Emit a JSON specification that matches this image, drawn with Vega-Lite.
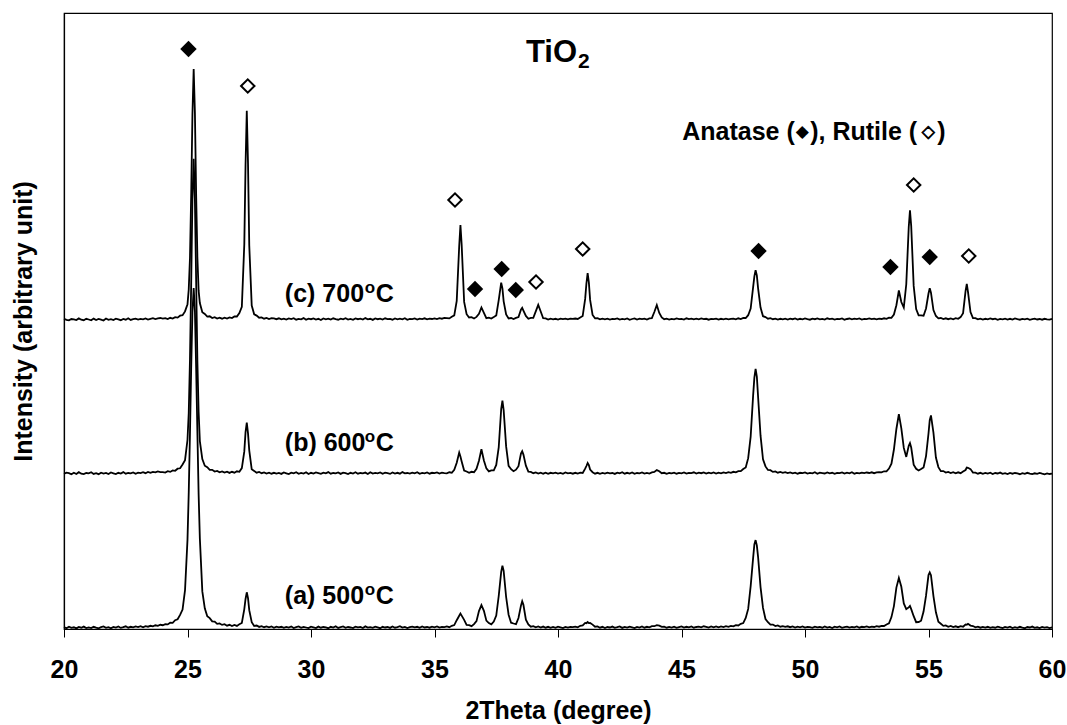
{
  "$schema": "https://vega.github.io/schema/vega-lite/v6.json",
  "width": 988,
  "height": 616,
  "autosize": {"type": "none"},
  "padding": {"left": 64, "top": 13, "right": 15, "bottom": 96},
  "background": "white",
  "config": {
    "font": "Liberation Sans",
    "view": {"stroke": "black", "strokeWidth": 1.2},
    "axis": {
      "grid": false,
      "domainColor": "black",
      "domainWidth": 1.2,
      "tickColor": "black",
      "labelFont": "Liberation Sans",
      "labelFontWeight": "bold",
      "labelFontSize": 25,
      "labelColor": "black",
      "titleFont": "Liberation Sans",
      "titleFontWeight": "bold",
      "titleFontSize": 25,
      "titleColor": "black"
    }
  },
  "datasets": {
    "xrd": [
      {"t":20.0,"a":1.9,"b":155.2,"c":310.3},{"t":20.1,"a":0.8,"b":156.4,"c":309.1},{"t":20.2,"a":2.3,"b":155.9,"c":308.6},{"t":20.3,"a":1.1,"b":154.7,"c":310.0},{"t":20.4,"a":1.7,"b":156.2,"c":309.7},
      {"t":20.5,"a":0.6,"b":155.0,"c":308.9},{"t":20.6,"a":2.0,"b":156.8,"c":310.6},{"t":20.7,"a":1.3,"b":155.3,"c":309.3},{"t":20.8,"a":2.4,"b":154.9,"c":308.8},{"t":20.9,"a":1.0,"b":156.0,"c":310.2},
      {"t":21.0,"a":1.6,"b":155.6,"c":309.5},{"t":21.1,"a":0.9,"b":156.7,"c":308.7},{"t":21.2,"a":2.2,"b":155.1,"c":310.4},{"t":21.3,"a":1.4,"b":155.8,"c":309.0},{"t":21.4,"a":0.7,"b":154.8,"c":310.1},
      {"t":21.5,"a":1.8,"b":156.3,"c":309.4},{"t":21.6,"a":2.5,"b":155.4,"c":308.5},{"t":21.7,"a":1.2,"b":156.1,"c":310.5},{"t":21.8,"a":1.9,"b":155.0,"c":309.2},{"t":21.9,"a":0.8,"b":156.5,"c":309.8},
      {"t":22.0,"a":2.1,"b":155.7,"c":308.9},{"t":22.1,"a":1.5,"b":154.9,"c":310.3},{"t":22.2,"a":2.6,"b":156.2,"c":309.6},{"t":22.3,"a":1.1,"b":155.5,"c":308.8},{"t":22.4,"a":1.8,"b":156.9,"c":310.0},
      {"t":22.5,"a":2.7,"b":155.3,"c":309.3},{"t":22.6,"a":1.3,"b":156.0,"c":310.7},{"t":22.7,"a":2.2,"b":155.6,"c":309.1},{"t":22.8,"a":1.6,"b":156.6,"c":309.9},{"t":22.9,"a":2.5,"b":155.2,"c":310.4},
      {"t":23.0,"a":1.9,"b":156.3,"c":309.4},{"t":23.1,"a":2.8,"b":155.9,"c":310.1},{"t":23.2,"a":1.7,"b":156.8,"c":309.7},{"t":23.3,"a":2.9,"b":155.8,"c":310.5},{"t":23.4,"a":2.3,"b":157.0,"c":309.5},
      {"t":23.5,"a":3.2,"b":156.1,"c":310.2},{"t":23.6,"a":2.6,"b":157.1,"c":310.8},{"t":23.7,"a":3.7,"b":156.6,"c":310.0},{"t":23.8,"a":3.1,"b":157.5,"c":310.6},{"t":23.9,"a":4.2,"b":156.9,"c":311.0},
      {"t":24.0,"a":3.8,"b":156.9,"c":310.4},{"t":24.1,"a":4.9,"b":156.4,"c":310.9},{"t":24.2,"a":4.6,"b":157.8,"c":309.9},{"t":24.3,"a":6.3,"b":157.1,"c":311.2},{"t":24.4,"a":6.1,"b":158.6,"c":310.5},
      {"t":24.5,"a":8.8,"b":158.2,"c":311.9},{"t":24.6,"a":9.7,"b":160.3,"c":311.4},{"t":24.7,"a":14.1,"b":160.7,"c":313.3},{"t":24.8,"a":19.4,"b":164.5,"c":313.8},{"t":24.9,"a":38.9,"b":168.8,"c":317.6},
      {"t":25.0,"a":89.4,"b":189.2,"c":324.8},{"t":25.05,"a":136.2,"b":215.9,"c":339.5},{"t":25.1,"a":195.8,"b":269.3,"c":370.9},{"t":25.15,"a":262.1,"b":346.8,"c":435.2},{"t":25.2,"a":316.9,"b":430.2,"c":514.8},
      {"t":25.25,"a":340.9,"b":470.1,"c":560.0},{"t":25.3,"a":318.1,"b":428.8,"c":516.2},{"t":25.35,"a":260.8,"b":348.3,"c":433.9},{"t":25.4,"a":197.2,"b":267.9,"c":372.1},{"t":25.45,"a":134.9,"b":217.2,"c":338.3},
      {"t":25.5,"a":90.6,"b":187.9,"c":325.9},{"t":25.6,"a":37.6,"b":169.9,"c":316.7},{"t":25.7,"a":20.7,"b":163.3,"c":315.0},{"t":25.8,"a":12.8,"b":161.8,"c":312.4},{"t":25.9,"a":10.9,"b":159.1,"c":312.7},
      {"t":26.0,"a":7.6,"b":159.2,"c":311.0},{"t":26.1,"a":7.3,"b":157.5,"c":311.8},{"t":26.2,"a":5.1,"b":158.1,"c":310.5},{"t":26.3,"a":5.6,"b":156.7,"c":311.3},{"t":26.4,"a":4.1,"b":157.6,"c":310.3},
      {"t":26.5,"a":4.8,"b":156.4,"c":311.4},{"t":26.6,"a":3.3,"b":157.3,"c":310.5},{"t":26.7,"a":4.2,"b":156.1,"c":311.6},{"t":26.8,"a":2.9,"b":157.2,"c":310.9},{"t":26.9,"a":4.0,"b":156.3,"c":312.5},
      {"t":27.0,"a":3.1,"b":157.7,"c":312.5},{"t":27.1,"a":4.7,"b":157.2,"c":315.9},{"t":27.2,"a":6.0,"b":160.9,"c":322.3},{"t":27.3,"a":19.9,"b":177.6,"c":385.0},{"t":27.35,"a":30.0,"b":196.8,"c":464.1},
      {"t":27.4,"a":36.7,"b":206.5,"c":518.2},{"t":27.45,"a":30.9,"b":195.6,"c":465.3},{"t":27.5,"a":18.8,"b":178.7,"c":383.8},{"t":27.6,"a":6.8,"b":159.7,"c":323.4},{"t":27.7,"a":3.1,"b":158.0,"c":314.7},
      {"t":27.8,"a":3.5,"b":156.3,"c":313.4},{"t":27.9,"a":2.1,"b":157.0,"c":311.3},{"t":28.0,"a":2.9,"b":155.8,"c":311.6},{"t":28.1,"a":1.8,"b":156.6,"c":310.3},{"t":28.2,"a":2.6,"b":155.5,"c":311.1},
      {"t":28.3,"a":1.6,"b":156.4,"c":309.9},{"t":28.4,"a":2.5,"b":155.3,"c":310.8},{"t":28.5,"a":1.3,"b":156.2,"c":310.6},{"t":28.6,"a":2.4,"b":155.4,"c":309.8},{"t":28.7,"a":1.6,"b":156.0,"c":310.7},
      {"t":28.8,"a":2.2,"b":155.1,"c":309.6},{"t":28.9,"a":1.1,"b":156.5,"c":310.3},{"t":29.0,"a":2.0,"b":155.7,"c":309.4},{"t":29.1,"a":1.4,"b":154.9,"c":310.5},{"t":29.2,"a":2.5,"b":156.3,"c":309.9},
      {"t":29.3,"a":1.0,"b":155.6,"c":310.8},{"t":29.4,"a":1.9,"b":156.7,"c":309.3},{"t":29.5,"a":2.6,"b":155.2,"c":310.1},{"t":29.6,"a":1.2,"b":156.1,"c":309.7},{"t":29.7,"a":2.1,"b":155.5,"c":310.9},
      {"t":29.8,"a":1.5,"b":156.8,"c":309.2},{"t":29.9,"a":0.9,"b":155.0,"c":310.4},{"t":30.0,"a":2.3,"b":156.2,"c":309.8},{"t":30.1,"a":1.7,"b":155.4,"c":310.6},{"t":30.2,"a":1.0,"b":156.6,"c":309.5},
      {"t":30.3,"a":2.4,"b":155.9,"c":310.2},{"t":30.4,"a":1.3,"b":155.2,"c":309.0},{"t":30.5,"a":2.0,"b":156.4,"c":310.5},{"t":30.6,"a":1.6,"b":155.7,"c":309.7},{"t":30.7,"a":0.8,"b":156.9,"c":310.3},
      {"t":30.8,"a":2.2,"b":155.3,"c":309.4},{"t":30.9,"a":1.4,"b":156.0,"c":310.7},{"t":31.0,"a":2.7,"b":155.6,"c":309.9},{"t":31.1,"a":1.1,"b":156.5,"c":309.3},{"t":31.2,"a":1.8,"b":155.1,"c":310.4},
      {"t":31.3,"a":2.5,"b":156.3,"c":309.6},{"t":31.4,"a":1.2,"b":155.8,"c":310.8},{"t":31.5,"a":2.0,"b":154.9,"c":309.5},{"t":31.6,"a":1.5,"b":156.2,"c":310.1},{"t":31.7,"a":0.9,"b":155.5,"c":309.2},
      {"t":31.8,"a":2.3,"b":156.7,"c":310.6},{"t":31.9,"a":1.6,"b":155.3,"c":309.8},{"t":32.0,"a":2.1,"b":156.0,"c":310.3},{"t":32.1,"a":1.0,"b":155.6,"c":309.4},{"t":32.2,"a":2.6,"b":156.4,"c":310.9},
      {"t":32.3,"a":1.4,"b":155.0,"c":309.7},{"t":32.4,"a":1.9,"b":156.8,"c":310.2},{"t":32.5,"a":1.2,"b":155.4,"c":309.1},{"t":32.6,"a":2.4,"b":156.1,"c":310.5},{"t":32.7,"a":1.7,"b":155.7,"c":309.8},
      {"t":32.8,"a":0.8,"b":156.5,"c":310.4},{"t":32.9,"a":2.2,"b":155.2,"c":309.5},{"t":33.0,"a":1.5,"b":156.3,"c":310.7},{"t":33.1,"a":2.0,"b":155.8,"c":309.9},{"t":33.2,"a":1.1,"b":155.1,"c":310.2},
      {"t":33.3,"a":2.5,"b":156.6,"c":309.3},{"t":33.4,"a":1.3,"b":155.5,"c":310.6},{"t":33.5,"a":1.9,"b":156.2,"c":309.7},{"t":33.6,"a":2.8,"b":155.3,"c":310.4},{"t":33.7,"a":1.4,"b":156.9,"c":309.6},
      {"t":33.8,"a":2.1,"b":155.6,"c":310.8},{"t":33.9,"a":1.0,"b":156.0,"c":309.2},{"t":34.0,"a":1.8,"b":155.4,"c":310.1},{"t":34.1,"a":2.4,"b":156.4,"c":309.8},{"t":34.2,"a":1.6,"b":155.7,"c":310.5},
      {"t":34.3,"a":2.2,"b":156.8,"c":309.4},{"t":34.4,"a":1.2,"b":155.2,"c":310.3},{"t":34.5,"a":2.6,"b":156.1,"c":309.9},{"t":34.6,"a":1.5,"b":155.6,"c":310.7},{"t":34.7,"a":2.0,"b":156.5,"c":309.7},
      {"t":34.8,"a":1.3,"b":155.3,"c":310.4},{"t":34.9,"a":2.3,"b":156.2,"c":310.0},{"t":35.0,"a":1.7,"b":155.8,"c":310.6},{"t":35.1,"a":2.6,"b":156.6,"c":309.9},{"t":35.2,"a":1.4,"b":155.5,"c":310.8},
      {"t":35.3,"a":2.2,"b":156.3,"c":310.3},{"t":35.4,"a":1.8,"b":155.9,"c":311.0},{"t":35.5,"a":2.6,"b":155.6,"c":310.9},{"t":35.6,"a":1.8,"b":156.7,"c":310.6},{"t":35.7,"a":3.2,"b":156.3,"c":312.3},
      {"t":35.8,"a":3.9,"b":159.3,"c":313.6},{"t":35.9,"a":8.8,"b":166.2,"c":328.2},{"t":36.0,"a":13.3,"b":176.4,"c":382.9},{"t":36.05,"a":15.4,"b":172.4,"c":404.0},{"t":36.1,"a":13.4,"b":167.5,"c":384.2},
      {"t":36.2,"a":9.1,"b":158.5,"c":327.1},{"t":36.3,"a":4.2,"b":157.5,"c":314.8},{"t":36.4,"a":3.9,"b":156.2,"c":311.5},{"t":36.5,"a":2.9,"b":157.2,"c":311.8},{"t":36.6,"a":4.9,"b":156.8,"c":310.5},
      {"t":36.7,"a":7.9,"b":160.2,"c":312.1},{"t":36.8,"a":17.9,"b":168.3,"c":315.1},{"t":36.9,"a":23.9,"b":179.7,"c":321.5},{"t":37.0,"a":18.2,"b":168.6,"c":316.1},{"t":37.1,"a":8.4,"b":160.6,"c":310.8},
      {"t":37.2,"a":5.9,"b":157.6,"c":311.3},{"t":37.3,"a":4.6,"b":158.6,"c":310.4},{"t":37.4,"a":7.4,"b":158.7,"c":311.9},{"t":37.5,"a":13.4,"b":164.1,"c":313.6},{"t":37.6,"a":33.0,"b":181.5,"c":328.8},
      {"t":37.7,"a":57.2,"b":220.0,"c":346.3},{"t":37.75,"a":63.3,"b":228.4,"c":340.7},{"t":37.8,"a":58.2,"b":218.9,"c":327.7},{"t":37.9,"a":32.0,"b":182.6,"c":314.5},{"t":38.0,"a":14.3,"b":163.2,"c":310.6},
      {"t":38.1,"a":6.3,"b":159.8,"c":311.0},{"t":38.2,"a":5.5,"b":157.8,"c":309.9},{"t":38.3,"a":4.9,"b":159.3,"c":311.1},{"t":38.4,"a":11.0,"b":162.8,"c":312.0},{"t":38.5,"a":23.4,"b":175.5,"c":319.4},
      {"t":38.55,"a":27.8,"b":177.8,"c":321.2},{"t":38.6,"a":24.2,"b":174.4,"c":318.4},{"t":38.7,"a":9.3,"b":163.3,"c":313.1},{"t":38.8,"a":4.6,"b":157.3,"c":310.2},{"t":38.9,"a":2.3,"b":157.1,"c":311.1},
      {"t":39.0,"a":2.9,"b":155.8,"c":311.1},{"t":39.1,"a":1.7,"b":156.6,"c":317.6},{"t":39.2,"a":2.5,"b":155.5,"c":324.1},{"t":39.3,"a":1.4,"b":156.4,"c":317.5},{"t":39.4,"a":2.4,"b":155.3,"c":310.8},
      {"t":39.5,"a":1.3,"b":156.3,"c":310.6},{"t":39.6,"a":2.2,"b":155.2,"c":309.4},{"t":39.7,"a":1.2,"b":156.2,"c":310.3},{"t":39.8,"a":2.1,"b":155.6,"c":309.7},{"t":39.9,"a":1.2,"b":156.3,"c":310.2},
      {"t":40.0,"a":2.3,"b":155.4,"c":309.5},{"t":40.1,"a":1.6,"b":156.0,"c":310.4},{"t":40.2,"a":0.9,"b":155.2,"c":309.8},{"t":40.3,"a":2.0,"b":156.5,"c":310.3},{"t":40.4,"a":1.4,"b":155.7,"c":309.6},
      {"t":40.5,"a":2.2,"b":156.1,"c":310.4},{"t":40.6,"a":1.8,"b":155.3,"c":310.1},{"t":40.7,"a":2.4,"b":156.2,"c":310.5},{"t":40.8,"a":1.7,"b":155.4,"c":310.0},{"t":40.9,"a":3.2,"b":156.3,"c":311.5},
      {"t":41.0,"a":3.6,"b":156.0,"c":313.0},{"t":41.1,"a":6.1,"b":160.3,"c":330.1},{"t":41.15,"a":5.8,"b":163.0,"c":345.3},{"t":41.2,"a":7.0,"b":165.9,"c":356.0},{"t":41.25,"a":5.9,"b":163.8,"c":346.3},
      {"t":41.3,"a":6.0,"b":159.4,"c":329.1},{"t":41.4,"a":4.4,"b":156.8,"c":314.0},{"t":41.5,"a":2.3,"b":155.3,"c":310.6},{"t":41.6,"a":2.6,"b":156.2,"c":310.9},{"t":41.7,"a":1.3,"b":155.2,"c":309.6},
      {"t":41.8,"a":2.2,"b":156.0,"c":310.4},{"t":41.9,"a":1.0,"b":155.4,"c":309.7},{"t":42.0,"a":2.0,"b":156.3,"c":310.3},{"t":42.1,"a":1.5,"b":155.7,"c":309.5},{"t":42.2,"a":2.4,"b":156.0,"c":310.2},
      {"t":42.3,"a":1.2,"b":155.1,"c":309.8},{"t":42.4,"a":1.8,"b":156.4,"c":310.6},{"t":42.5,"a":2.5,"b":155.6,"c":309.4},{"t":42.6,"a":1.1,"b":156.8,"c":310.1},{"t":42.7,"a":2.0,"b":155.3,"c":309.7},
      {"t":42.8,"a":1.4,"b":156.2,"c":310.5},{"t":42.9,"a":2.3,"b":155.5,"c":309.2},{"t":43.0,"a":1.6,"b":156.6,"c":310.0},{"t":43.1,"a":0.9,"b":155.2,"c":310.6},{"t":43.2,"a":2.1,"b":156.0,"c":309.5},
      {"t":43.3,"a":1.5,"b":155.7,"c":310.3},{"t":43.4,"a":2.6,"b":156.5,"c":309.8},{"t":43.5,"a":1.3,"b":155.4,"c":310.3},{"t":43.6,"a":2.2,"b":156.1,"c":309.5},{"t":43.7,"a":1.7,"b":155.5,"c":310.6},
      {"t":43.8,"a":2.9,"b":156.6,"c":310.9},{"t":43.9,"a":2.8,"b":157.0,"c":317.0},{"t":44.0,"a":3.9,"b":158.9,"c":323.9},{"t":44.1,"a":3.4,"b":157.7,"c":316.1},{"t":44.2,"a":2.1,"b":155.8,"c":311.6},
      {"t":44.3,"a":2.4,"b":156.2,"c":309.8},{"t":44.4,"a":1.3,"b":155.2,"c":310.3},{"t":44.5,"a":2.1,"b":156.0,"c":309.4},{"t":44.6,"a":1.5,"b":155.6,"c":310.1},{"t":44.7,"a":2.3,"b":156.4,"c":309.6},
      {"t":44.8,"a":1.1,"b":155.3,"c":310.5},{"t":44.9,"a":1.9,"b":156.1,"c":309.8},{"t":45.0,"a":2.5,"b":155.7,"c":310.2},{"t":45.1,"a":1.4,"b":156.5,"c":309.4},{"t":45.2,"a":2.2,"b":155.4,"c":310.7},
      {"t":45.3,"a":1.7,"b":156.2,"c":309.9},{"t":45.4,"a":2.6,"b":155.9,"c":310.4},{"t":45.5,"a":1.3,"b":156.7,"c":309.6},{"t":45.6,"a":2.0,"b":155.5,"c":310.3},{"t":45.7,"a":2.4,"b":156.3,"c":309.7},
      {"t":45.8,"a":1.6,"b":155.8,"c":310.5},{"t":45.9,"a":2.7,"b":156.6,"c":309.8},{"t":46.0,"a":2.2,"b":155.4,"c":310.2},{"t":46.1,"a":1.4,"b":156.3,"c":309.3},{"t":46.2,"a":2.5,"b":155.6,"c":310.1},
      {"t":46.3,"a":1.6,"b":156.5,"c":309.9},{"t":46.4,"a":2.6,"b":155.5,"c":310.4},{"t":46.5,"a":1.7,"b":156.4,"c":309.4},{"t":46.6,"a":2.6,"b":155.7,"c":310.2},{"t":46.7,"a":1.9,"b":156.6,"c":309.6},
      {"t":46.8,"a":2.8,"b":155.9,"c":310.3},{"t":46.9,"a":2.2,"b":156.8,"c":309.6},{"t":47.0,"a":3.1,"b":156.2,"c":310.2},{"t":47.1,"a":2.6,"b":157.2,"c":310.3},{"t":47.2,"a":3.9,"b":156.7,"c":309.6},
      {"t":47.3,"a":3.5,"b":157.9,"c":310.7},{"t":47.4,"a":5.2,"b":157.8,"c":310.0},{"t":47.5,"a":5.9,"b":160.0,"c":311.1},{"t":47.6,"a":11.0,"b":161.6,"c":311.0},{"t":47.7,"a":20.1,"b":170.8,"c":313.8},
      {"t":47.8,"a":42.9,"b":192.3,"c":320.5},{"t":47.9,"a":71.2,"b":233.6,"c":341.9},{"t":47.95,"a":84.5,"b":251.4,"c":352.6},{"t":48.0,"a":88.9,"b":260.0,"c":358.9},{"t":48.05,"a":83.6,"b":252.5,"c":353.6},
      {"t":48.1,"a":72.2,"b":232.5,"c":340.9},{"t":48.2,"a":41.9,"b":193.3,"c":321.5},{"t":48.3,"a":21.1,"b":169.7,"c":312.8},{"t":48.4,"a":10.0,"b":162.6,"c":311.9},{"t":48.5,"a":6.8,"b":159.0,"c":310.3},
      {"t":48.6,"a":4.3,"b":158.8,"c":310.9},{"t":48.7,"a":4.4,"b":157.1,"c":309.8},{"t":48.8,"a":2.9,"b":157.6,"c":310.4},{"t":48.9,"a":3.5,"b":156.3,"c":309.5},{"t":49.0,"a":2.3,"b":157.0,"c":310.2},
      {"t":49.1,"a":2.9,"b":156.2,"c":309.6},{"t":49.2,"a":2.1,"b":156.8,"c":310.3},{"t":49.3,"a":2.7,"b":155.9,"c":309.5},{"t":49.4,"a":1.8,"b":156.5,"c":310.4},{"t":49.5,"a":2.5,"b":155.7,"c":309.8},
      {"t":49.6,"a":1.5,"b":156.4,"c":310.5},{"t":49.7,"a":2.3,"b":155.3,"c":309.4},{"t":49.8,"a":1.7,"b":156.2,"c":310.2},{"t":49.9,"a":2.6,"b":155.8,"c":309.7},{"t":50.0,"a":1.4,"b":156.6,"c":310.6},
      {"t":50.1,"a":2.2,"b":155.4,"c":309.9},{"t":50.2,"a":1.8,"b":156.1,"c":309.3},{"t":50.3,"a":1.1,"b":155.6,"c":310.3},{"t":50.4,"a":2.4,"b":156.7,"c":309.8},{"t":50.5,"a":1.6,"b":155.2,"c":310.5},
      {"t":50.6,"a":2.0,"b":156.3,"c":309.6},{"t":50.7,"a":1.3,"b":155.9,"c":310.1},{"t":50.8,"a":2.6,"b":155.5,"c":309.4},{"t":50.9,"a":1.5,"b":156.5,"c":310.7},{"t":51.0,"a":2.1,"b":155.7,"c":309.9},
      {"t":51.1,"a":1.0,"b":156.2,"c":310.4},{"t":51.2,"a":2.3,"b":155.1,"c":309.5},{"t":51.3,"a":1.7,"b":156.0,"c":310.2},{"t":51.4,"a":2.5,"b":155.8,"c":309.8},{"t":51.5,"a":1.2,"b":156.6,"c":310.6},
      {"t":51.6,"a":1.9,"b":155.4,"c":309.3},{"t":51.7,"a":2.4,"b":156.3,"c":310.0},{"t":51.8,"a":1.4,"b":155.6,"c":310.5},{"t":51.9,"a":2.0,"b":156.8,"c":309.7},{"t":52.0,"a":1.6,"b":155.3,"c":310.3},
      {"t":52.1,"a":2.5,"b":156.1,"c":309.9},{"t":52.2,"a":1.3,"b":155.7,"c":310.6},{"t":52.3,"a":2.2,"b":156.4,"c":309.5},{"t":52.4,"a":1.8,"b":155.9,"c":310.2},{"t":52.5,"a":2.6,"b":156.5,"c":309.8},
      {"t":52.6,"a":1.7,"b":156.0,"c":310.5},{"t":52.7,"a":2.4,"b":156.7,"c":309.9},{"t":52.8,"a":2.0,"b":155.8,"c":310.4},{"t":52.9,"a":2.9,"b":156.6,"c":309.7},{"t":53.0,"a":2.3,"b":156.9,"c":310.3},
      {"t":53.1,"a":3.2,"b":156.6,"c":310.0},{"t":53.2,"a":3.0,"b":157.7,"c":310.7},{"t":53.3,"a":4.5,"b":157.7,"c":310.1},{"t":53.4,"a":5.6,"b":160.4,"c":311.4},{"t":53.5,"a":11.9,"b":165.3,"c":311.2},
      {"t":53.6,"a":22.9,"b":179.5,"c":314.4},{"t":53.7,"a":41.4,"b":200.0,"c":323.8},{"t":53.8,"a":51.0,"b":214.8,"c":338.5},{"t":53.9,"a":42.2,"b":200.6,"c":327.0},{"t":54.0,"a":25.6,"b":181.1,"c":321.4},
      {"t":54.1,"a":19.9,"b":172.1,"c":344.7},{"t":54.2,"a":21.6,"b":183.1,"c":402.0},{"t":54.25,"a":23.1,"b":185.9,"c":418.7},{"t":54.3,"a":19.9,"b":181.5,"c":402.9},{"t":54.4,"a":12.8,"b":164.3,"c":343.1},
      {"t":54.5,"a":6.8,"b":160.2,"c":319.9},{"t":54.6,"a":7.0,"b":158.5,"c":313.7},{"t":54.7,"a":8.3,"b":159.9,"c":313.7},{"t":54.8,"a":17.4,"b":161.6,"c":313.3},{"t":54.9,"a":33.3,"b":172.9,"c":320.5},
      {"t":55.0,"a":53.9,"b":195.5,"c":335.5},{"t":55.05,"a":56.6,"b":208.8,"c":340.8},{"t":55.1,"a":53.8,"b":213.6,"c":336.3},{"t":55.2,"a":32.9,"b":196.3,"c":318.9},{"t":55.3,"a":16.7,"b":171.4,"c":313.0},
      {"t":55.4,"a":7.2,"b":161.9,"c":310.6},{"t":55.5,"a":5.2,"b":157.8,"c":311.0},{"t":55.6,"a":3.1,"b":157.9,"c":309.9},{"t":55.7,"a":3.6,"b":156.4,"c":310.7},{"t":55.8,"a":2.2,"b":157.1,"c":309.8},
      {"t":55.9,"a":3.0,"b":156.0,"c":310.6},{"t":56.0,"a":1.9,"b":156.8,"c":309.7},{"t":56.1,"a":2.7,"b":155.7,"c":310.8},{"t":56.2,"a":1.8,"b":156.7,"c":310.2},{"t":56.3,"a":2.8,"b":155.8,"c":311.9},
      {"t":56.4,"a":2.3,"b":157.5,"c":315.9},{"t":56.5,"a":4.5,"b":159.0,"c":337.8},{"t":56.55,"a":4.2,"b":161.4,"c":345.1},{"t":56.6,"a":5.2,"b":161.2,"c":336.8},{"t":56.7,"a":3.4,"b":159.9,"c":316.9},
      {"t":56.8,"a":3.0,"b":156.4,"c":310.8},{"t":56.9,"a":1.6,"b":156.4,"c":310.9},{"t":57.0,"a":2.3,"b":155.3,"c":309.6},{"t":57.1,"a":1.3,"b":156.2,"c":310.4},{"t":57.2,"a":2.1,"b":155.2,"c":309.4},
      {"t":57.3,"a":1.4,"b":156.1,"c":310.2},{"t":57.4,"a":2.2,"b":155.4,"c":309.6},{"t":57.5,"a":1.1,"b":156.3,"c":310.5},{"t":57.6,"a":1.9,"b":155.0,"c":309.8},{"t":57.7,"a":1.3,"b":156.0,"c":310.3},
      {"t":57.8,"a":2.4,"b":155.5,"c":309.2},{"t":57.9,"a":1.6,"b":156.4,"c":310.1},{"t":58.0,"a":0.9,"b":155.2,"c":309.7},{"t":58.1,"a":2.1,"b":155.8,"c":310.4},{"t":58.2,"a":1.5,"b":154.9,"c":309.5},
      {"t":58.3,"a":2.3,"b":156.1,"c":310.2},{"t":58.4,"a":1.0,"b":155.3,"c":309.4},{"t":58.5,"a":1.8,"b":156.0,"c":310.6},{"t":58.6,"a":1.2,"b":155.6,"c":309.8},{"t":58.7,"a":2.2,"b":154.8,"c":309.3},
      {"t":58.8,"a":1.4,"b":155.9,"c":310.1},{"t":58.9,"a":0.8,"b":155.2,"c":309.6},{"t":59.0,"a":2.0,"b":156.2,"c":310.3},{"t":59.1,"a":1.5,"b":155.4,"c":309.2},{"t":59.2,"a":2.4,"b":154.9,"c":309.9},
      {"t":59.3,"a":1.1,"b":155.7,"c":310.4},{"t":59.4,"a":1.7,"b":155.1,"c":309.5},{"t":59.5,"a":0.9,"b":156.0,"c":310.0},{"t":59.6,"a":2.1,"b":155.3,"c":309.3},{"t":59.7,"a":1.4,"b":154.7,"c":310.2},
      {"t":59.8,"a":1.9,"b":155.6,"c":309.7},{"t":59.9,"a":1.0,"b":155.0,"c":309.4},{"t":60.0,"a":1.6,"b":155.4,"c":310.1}
    ],
    "phases": [
      {"t":25.04,"h":580,"phase":"anatase"},
      {"t":36.64,"h":340,"phase":"anatase"},
      {"t":37.72,"h":360,"phase":"anatase"},
      {"t":38.29,"h":339,"phase":"anatase"},
      {"t":48.12,"h":378,"phase":"anatase"},
      {"t":53.46,"h":362,"phase":"anatase"},
      {"t":55.05,"h":372,"phase":"anatase"},
      {"t":27.44,"h":543,"phase":"rutile"},
      {"t":35.83,"h":429,"phase":"rutile"},
      {"t":39.11,"h":347,"phase":"rutile"},
      {"t":41.0,"h":380,"phase":"rutile"},
      {"t":54.4,"h":444,"phase":"rutile"},
      {"t":56.63,"h":373,"phase":"rutile"}
    ],
    "samples": [
      {"t":28.94,"h":327,"label":"(c) 700"},
      {"t":28.94,"h":178,"label":"(b) 600"},
      {"t":28.94,"h":25,"label":"(a) 500"}
    ],
    "legendNote": [
      {"t":45.03,"h":489}
    ]
  },
  "layer": [
    {
      "data": {"name": "xrd"},
      "transform": [{"fold": ["a", "b", "c"], "as": ["sample", "intensity"]}],
      "mark": {"type": "line", "color": "black", "strokeWidth": 1.8},
      "encoding": {
        "x": {
          "field": "t",
          "type": "quantitative",
          "scale": {"domain": [20, 60], "nice": false, "zero": false},
          "axis": {
            "title": "2Theta (degree)",
            "values": [20, 25, 30, 35, 40, 45, 50, 55, 60],
            "format": "d",
            "labelFlush": false,
            "labelOverlap": false,
            "tickSize": 8,
            "labelPadding": 20,
            "titlePadding": 16
          }
        },
        "y": {
          "field": "intensity",
          "type": "quantitative",
          "scale": {"domain": [0, 616], "nice": false, "zero": false},
          "axis": {
            "title": "Intensity (arbitrary unit)",
            "labels": false,
            "ticks": false,
            "titlePadding": 28
          }
        },
        "detail": {"field": "sample"}
      }
    },
    {
      "data": {"name": "phases"},
      "transform": [{"filter": "datum.phase === 'anatase'"}],
      "mark": {"type": "point", "shape": "diamond", "filled": true, "color": "black", "size": 270, "opacity": 1},
      "encoding": {
        "x": {"field": "t", "type": "quantitative"},
        "y": {"field": "h", "type": "quantitative"}
      }
    },
    {
      "data": {"name": "phases"},
      "transform": [{"filter": "datum.phase === 'rutile'"}],
      "mark": {"type": "point", "shape": "diamond", "filled": true, "fill": "white", "stroke": "black", "strokeWidth": 2, "size": 180, "opacity": 1},
      "encoding": {
        "x": {"field": "t", "type": "quantitative"},
        "y": {"field": "h", "type": "quantitative"}
      }
    },
    {
      "data": {"name": "samples"},
      "mark": {"type": "text", "align": "left", "baseline": "alphabetic", "fontSize": 25, "fontWeight": "bold", "color": "black"},
      "encoding": {
        "x": {"field": "t", "type": "quantitative"},
        "y": {"field": "h", "type": "quantitative"},
        "text": {"field": "label"}
      }
    },
    {
      "data": {"name": "samples"},
      "mark": {"type": "text", "text": "o", "align": "left", "baseline": "alphabetic", "fontSize": 17, "fontWeight": "bold", "color": "black", "dx": 80, "dy": -9},
      "encoding": {
        "x": {"field": "t", "type": "quantitative"},
        "y": {"field": "h", "type": "quantitative"}
      }
    },
    {
      "data": {"name": "samples"},
      "mark": {"type": "text", "text": "C", "align": "left", "baseline": "alphabetic", "fontSize": 25, "fontWeight": "bold", "color": "black", "dx": 91},
      "encoding": {
        "x": {"field": "t", "type": "quantitative"},
        "y": {"field": "h", "type": "quantitative"}
      }
    },
    {
      "data": {"values": [{"t": 40.77, "h": 567}]},
      "mark": {"type": "text", "text": "TiO", "align": "right", "baseline": "alphabetic", "fontSize": 31, "fontWeight": "bold", "color": "black"},
      "encoding": {
        "x": {"field": "t", "type": "quantitative"},
        "y": {"field": "h", "type": "quantitative"}
      }
    },
    {
      "data": {"values": [{"t": 40.77, "h": 567}]},
      "mark": {"type": "text", "text": "2", "align": "left", "baseline": "alphabetic", "fontSize": 21, "fontWeight": "bold", "color": "black", "dx": 1, "dy": 6},
      "encoding": {
        "x": {"field": "t", "type": "quantitative"},
        "y": {"field": "h", "type": "quantitative"}
      }
    },
    {
      "data": {"name": "legendNote"},
      "mark": {"type": "text", "text": "Anatase (", "align": "left", "baseline": "alphabetic", "fontSize": 25, "fontWeight": "bold", "color": "black"},
      "encoding": {
        "x": {"field": "t", "type": "quantitative"},
        "y": {"field": "h", "type": "quantitative"}
      }
    },
    {
      "data": {"name": "legendNote"},
      "mark": {"type": "text", "text": "◆", "align": "center", "baseline": "alphabetic", "fontSize": 17, "fontWeight": "bold", "color": "black", "font": "DejaVu Sans", "dx": 120, "dy": -3},
      "encoding": {
        "x": {"field": "t", "type": "quantitative"},
        "y": {"field": "h", "type": "quantitative"}
      }
    },
    {
      "data": {"name": "legendNote"},
      "mark": {"type": "text", "text": "), Rutile (", "align": "left", "baseline": "alphabetic", "fontSize": 25, "fontWeight": "bold", "color": "black", "dx": 128},
      "encoding": {
        "x": {"field": "t", "type": "quantitative"},
        "y": {"field": "h", "type": "quantitative"}
      }
    },
    {
      "data": {"name": "legendNote"},
      "mark": {"type": "text", "text": "◇", "align": "center", "baseline": "alphabetic", "fontSize": 17, "fontWeight": "bold", "color": "black", "stroke": "black", "strokeWidth": 0.8, "font": "DejaVu Sans", "dx": 246, "dy": -3},
      "encoding": {
        "x": {"field": "t", "type": "quantitative"},
        "y": {"field": "h", "type": "quantitative"}
      }
    },
    {
      "data": {"name": "legendNote"},
      "mark": {"type": "text", "text": ")", "align": "left", "baseline": "alphabetic", "fontSize": 25, "fontWeight": "bold", "color": "black", "dx": 255},
      "encoding": {
        "x": {"field": "t", "type": "quantitative"},
        "y": {"field": "h", "type": "quantitative"}
      }
    }
  ]
}
